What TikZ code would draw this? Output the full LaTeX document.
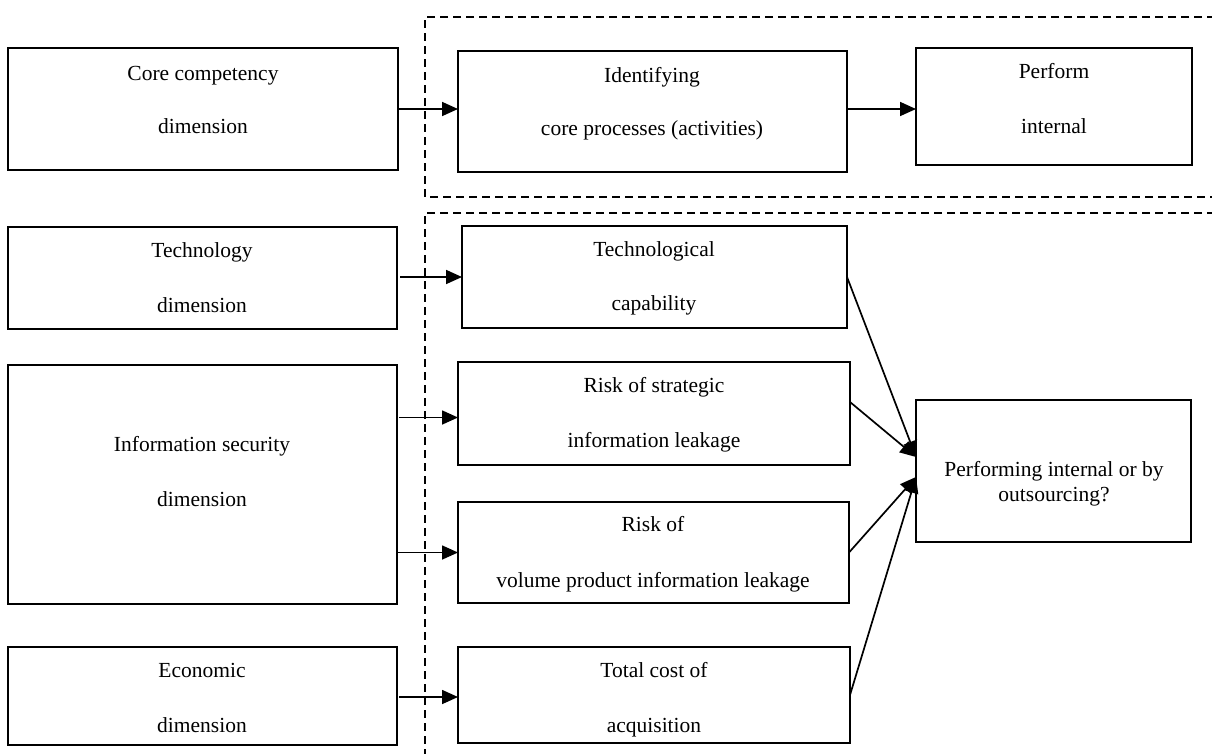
\documentclass[tikz,border=0pt]{standalone}
\usepackage{fontspec}
\setmainfont{Liberation Serif}
\usetikzlibrary{arrows.meta,fit}
\begin{document}
\begin{tikzpicture}[x=1pt,y=-1pt,
  box/.style={draw, line width=1.6pt, inner sep=0pt, outer sep=0pt},
  txt/.style={anchor=base, inner sep=0pt, font=\fontsize{21.5}{24}\selectfont},
  conn/.style={line width=1.7pt, -{Triangle[length=16pt,width=14pt]}},
  dashline/.style={line width=1.4pt, dash pattern=on 8pt off 5pt}]
\useasboundingbox (0,0) rectangle (1212,753);
\clip (0,0) rectangle (1212,753);
\fill[white] (0,0) rectangle (1212,753);

% dashed regions
\draw[dashline] (1215,17) -- (425,17) -- (425,197) -- (1215,197);
\draw[dashline] (1215,213) -- (425,213) -- (425,760);

% boxes
\node[box, fit={(8,48)(398,170)}] (core) {};
\node[box, fit={(458,51)(847,172)}] (ident) {};
\node[box, fit={(916,48)(1192,165)}] (perfint) {};
\node[box, fit={(8,227)(397,329)}] (tech) {};
\node[box, fit={(462,226)(847,328)}] (techcap) {};
\node[box, fit={(8,365)(397,604)}] (info) {};
\node[box, fit={(458,362)(850,465)}] (strat) {};
\node[box, fit={(458,502)(849,603)}] (vol) {};
\node[box, fit={(8,647)(397,745)}] (econ) {};
\node[box, fit={(458,647)(850,743)}] (total) {};
\node[box, fit={(916,400)(1191,542)}] (perf) {};

% texts
\node[txt] (core1) at (203,80) {Core competency};
\node[txt] (core2) at (203,133) {dimension};
\node[txt] (ident1) at (652,82) {Identifying};
\node[txt] (ident2) at (652,135) {core processes (activities)};
\node[txt] (perfint1) at (1054,78) {Perform};
\node[txt] (perfint2) at (1054,133) {internal};
\node[txt] (tech1) at (202,257) {Technology};
\node[txt] (tech2) at (202,312) {dimension};
\node[txt] (techcap1) at (654,256) {Technological};
\node[txt] (techcap2) at (654,310) {capability};
\node[txt] (info1) at (202,451) {Information security};
\node[txt] (info2) at (202,506) {dimension};
\node[txt] (strat1) at (654,392) {Risk of strategic};
\node[txt] (strat2) at (654,447) {information leakage};
\node[txt] (vol1) at (653,531) {Risk of};
\node[txt] (vol2) at (653,587) {volume product information leakage};
\node[txt] (econ1) at (202,677) {Economic};
\node[txt] (econ2) at (202,732) {dimension};
\node[txt] (total1) at (654,677) {Total cost of};
\node[txt] (total2) at (654,732) {acquisition};
\node[txt] (perf1) at (1054,476) {Performing internal or by};
\node[txt] (perf2) at (1054,501) {outsourcing?};

% horizontal connectors
\draw[conn] (core.east) -- (core.east -| ident.west);
\draw[conn] (ident.east |- core.east) -- (ident.east |- core.east -| perfint.west);
\draw[conn, shorten <=3pt] (techcap.west -| tech.east) -- (techcap.west);
\draw[conn, shorten <=2pt] ([yshift=-4pt]strat.west -| info.east) -- ([yshift=-4pt]strat.west);
\draw[conn] (vol.west -| info.east) -- (vol.west);
\draw[conn, shorten <=2pt] ([yshift=-2pt]total.west -| econ.east) -- ([yshift=-2pt]total.west);

% converging connectors
\coordinate (tipA) at ([yshift=14pt]perf.west);
\coordinate (tipB) at ([yshift=-6pt]perf.west);
\draw[conn] (techcap.east) -- (tipA);
\draw[conn] ([yshift=11.5pt]strat.east) -- (tipA);
\draw[conn] (vol.east) -- (tipB);
\draw[conn] (total.east) -- (tipB);
\end{tikzpicture}
\end{document}
